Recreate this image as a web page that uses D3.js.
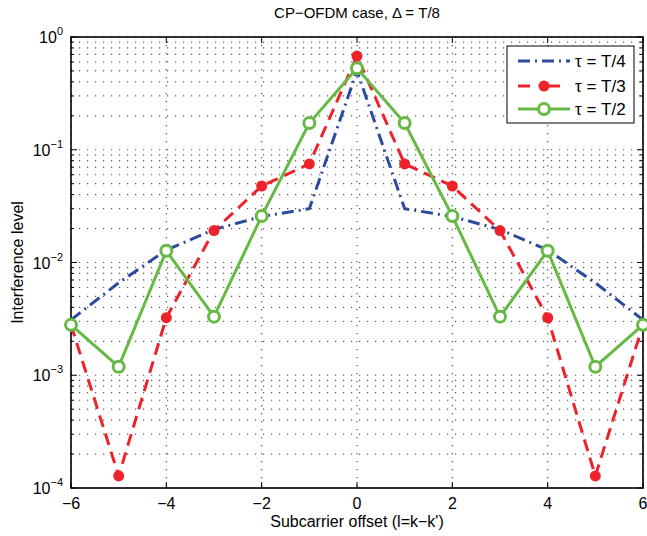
<!DOCTYPE html>
<html><head><meta charset="utf-8">
<script src="https://cdn.jsdelivr.net/npm/d3@7"></script>
<style>body{margin:0;background:#fff}text{font-family:"Liberation Sans",Arial,sans-serif}</style>
</head><body><svg id="c" width="647" height="536"></svg>
<script>
const offsets = [-6,-5,-4,-3,-2,-1,0,1,2,3,4,5,6];
const tauT4 = [0.0031,0.0066,0.0129,0.0196,0.0256,0.0300,0.50,0.0300,0.0256,0.0196,0.0129,0.0066,0.0031];
const tauT3 = [0.0028,0.000128,0.00324,0.0192,0.0477,0.0748,0.678,0.0748,0.0477,0.0192,0.00324,0.000128,0.0028];
const tauT2 = [0.0028,0.00119,0.0127,0.00331,0.0258,0.1726,0.527,0.1726,0.0258,0.00331,0.0127,0.00119,0.0028];
const xTicks = [-6,-4,-2,0,2,4,6];
const yTicks = [1,0.1,0.01,0.001,0.0001];
const seriesNames = ["τ = T/4","τ = T/3","τ = T/2"];

const svg = d3.select("#c");
const L=71,R=643,T=37,B=488;
const x = d3.scaleLinear().domain([-6,6]).range([L,R]);
const y = d3.scaleLog().domain([1e-4,1]).range([B,T]);

// grid
const g = svg.append("g");
const minor = [];
for (let e=-4;e<0;e++) for (let m=1;m<10;m++) minor.push(m*Math.pow(10,e));
minor.push(1);
g.selectAll("line.gy").data(minor).enter().append("line")
 .attr("x1",L).attr("x2",R).attr("y1",d=>y(d)).attr("y2",d=>y(d))
 .attr("stroke","#555").attr("stroke-width",1.2).attr("stroke-dasharray","1.2,6.8");
g.selectAll("line.gx").data(xTicks).enter().append("line")
 .attr("y1",T).attr("y2",B).attr("x1",d=>x(d)).attr("x2",d=>x(d))
 .attr("stroke","#555").attr("stroke-width",1.2).attr("stroke-dasharray","1.2,6.8");

// ticks
const tk = svg.append("g").attr("stroke","#000").attr("stroke-width",1);
xTicks.forEach(d=>{
  tk.append("line").attr("x1",x(d)).attr("x2",x(d)).attr("y1",B).attr("y2",B-6);
  tk.append("line").attr("x1",x(d)).attr("x2",x(d)).attr("y1",T).attr("y2",T+6);
});
minor.forEach(d=>{
  const major = yTicks.some(t=>Math.abs(t-d)/d<1e-6);
  const len = major?6:3;
  tk.append("line").attr("x1",L).attr("x2",L+len).attr("y1",y(d)).attr("y2",y(d));
  tk.append("line").attr("x1",R).attr("x2",R-len).attr("y1",y(d)).attr("y2",y(d));
});
svg.append("rect").attr("x",L).attr("y",T).attr("width",R-L).attr("height",B-T)
 .attr("fill","none").attr("stroke","#000").attr("stroke-width",1.6);

// tick labels
svg.selectAll("text.xt").data(xTicks).enter().append("text")
 .attr("x",d=>x(d)).attr("y",B+21).attr("text-anchor","middle").attr("font-size",16)
 .text(d=>d<0?"\u2212"+Math.abs(d):d);
yTicks.forEach(d=>{
  const e = Math.round(Math.log10(d));
  const t = svg.append("text").attr("x",L-8).attr("y",y(d)+6).attr("text-anchor","end").attr("font-size",16);
  t.append("tspan").text("10");
  t.append("tspan").attr("dy",-8).attr("font-size",11).text(e===0?"0":"\u2212"+Math.abs(e));
});
svg.append("text").attr("x",(L+R)/2).attr("y",18).attr("text-anchor","middle").attr("font-size",15)
 .text("CP\u2212OFDM case, \u0394 = T/8");
svg.append("text").attr("x",(L+R)/2).attr("y",527).attr("text-anchor","middle").attr("font-size",16)
 .text("Subcarrier offset (l=k\u2212k')");
svg.append("text").attr("transform",`translate(23,${(T+B)/2}) rotate(-90)`).attr("text-anchor","middle").attr("font-size",16)
 .text("Interference level");

// series
const blue="#2c4a9e", red="#ee2229", green="#66b944";
const line = d3.line().x((d,i)=>x(offsets[i])).y(d=>y(d));
const plot = svg.append("g");
plot.append("path").datum(tauT4).attr("d",line).attr("fill","none").attr("stroke",blue)
 .attr("stroke-width",3).attr("stroke-dasharray","12,5,2,5");
plot.append("path").datum(tauT3).attr("d",line).attr("fill","none").attr("stroke",red)
 .attr("stroke-width",3).attr("stroke-dasharray","12,7");
plot.selectAll("circle.r").data(tauT3).enter().append("circle")
 .attr("cx",(d,i)=>x(offsets[i])).attr("cy",d=>y(d)).attr("r",5.5).attr("fill",red);
plot.append("path").datum(tauT2).attr("d",line).attr("fill","none").attr("stroke",green).attr("stroke-width",3);
plot.selectAll("circle.g").data(tauT2).enter().append("circle")
 .attr("cx",(d,i)=>x(offsets[i])).attr("cy",d=>y(d)).attr("r",5.5).attr("fill","#fff")
 .attr("stroke",green).attr("stroke-width",3);

// legend
const lg = svg.append("g");
lg.append("rect").attr("x",507).attr("y",46).attr("width",127).attr("height",77)
 .attr("fill","#fff").attr("stroke","#000").attr("stroke-width",1);
const ly=[61,86,109];
const cols=[blue,red,green];
const dashes=["12,5,2,5","12,18",null];
seriesNames.forEach((n,i)=>{
  const l = lg.append("line").attr("x1",518).attr("x2",570).attr("y1",ly[i]).attr("y2",ly[i])
   .attr("stroke",cols[i]).attr("stroke-width",3);
  if (dashes[i]) l.attr("stroke-dasharray",dashes[i]);
  if (i===1) lg.append("circle").attr("cx",544).attr("cy",ly[i]).attr("r",5.5).attr("fill",red);
  if (i===2) lg.append("circle").attr("cx",544).attr("cy",ly[i]).attr("r",5.5).attr("fill","#fff").attr("stroke",green).attr("stroke-width",3);
  lg.append("text").attr("x",575).attr("y",ly[i]+6).attr("font-size",17).text(n);
});
</script></body></html>
